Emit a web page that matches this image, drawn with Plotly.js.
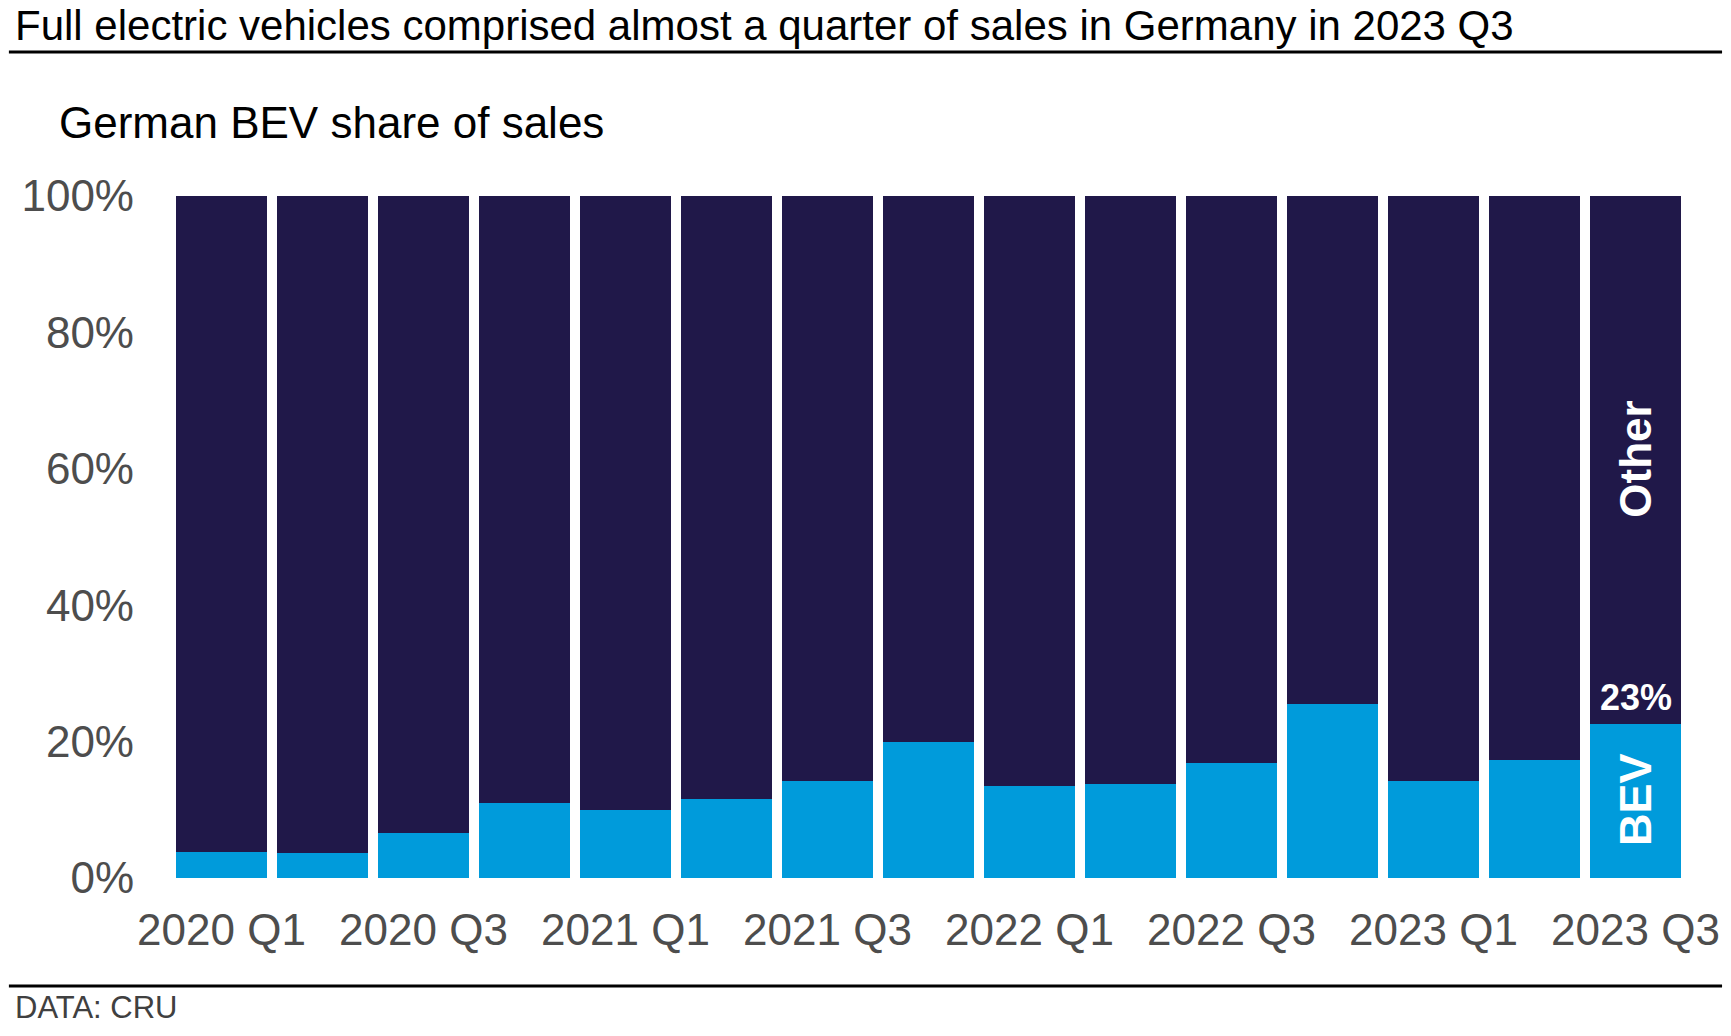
<!DOCTYPE html>
<html>
<head>
<meta charset="utf-8">
<script src="https://cdn.plot.ly/plotly-3.0.1.min.js"></script>
<style>
  html, body { margin: 0; padding: 0; background: #ffffff; }
  #chart { width: 1731px; height: 1036px; }
</style>
</head>
<body>
<div id="chart"></div>
<script>
// ---- Data ----
const quarters = [
  "2020 Q1", "2020 Q2", "2020 Q3", "2020 Q4",
  "2021 Q1", "2021 Q2", "2021 Q3", "2021 Q4",
  "2022 Q1", "2022 Q2", "2022 Q3", "2022 Q4",
  "2023 Q1", "2023 Q2", "2023 Q3"
];
const bevShare = [3.8, 3.7, 6.6, 11.0, 10.0, 11.6, 14.2, 19.9, 13.5, 13.8, 16.9, 25.5, 14.2, 17.3, 22.6];
const otherShare = [96.2, 96.3, 93.4, 89.0, 90.0, 88.4, 85.8, 80.1, 86.5, 86.2, 83.1, 74.5, 85.8, 82.7, 77.4];
const tickLabels = ["2020 Q1", "2020 Q3", "2021 Q1", "2021 Q3", "2022 Q1", "2022 Q3", "2023 Q1", "2023 Q3"];
const yTicks = [0, 20, 40, 60, 80, 100];
const yTickLabels = ["0%", "20%", "40%", "60%", "80%", "100%"];

const titleText = "Full electric vehicles comprised almost a quarter of sales in Germany in 2023 Q3";
const subtitleText = "German BEV share of sales";
const sourceText = "DATA: CRU";

// ---- Styles ----
const BLUE = "#009bdb";
const NAVY = "#201849";
const GREY = "#4d4d4d";
const FONT = "Liberation Sans, Arial, sans-serif";

const traces = [
  {
    type: "bar", name: "BEV", x: quarters, y: bevShare,
    marker: { color: BLUE, line: { width: 0 } }, hoverinfo: "skip"
  },
  {
    type: "bar", name: "Other", x: quarters, y: otherShare,
    marker: { color: NAVY, line: { width: 0 } }, hoverinfo: "skip"
  }
];

const lastQ = quarters[quarters.length - 1];
const lastBev = bevShare[bevShare.length - 1];

const layout = {
  width: 1731, height: 1036,
  margin: { l: 171, r: 45, t: 196, b: 158, pad: 0 },
  paper_bgcolor: "#ffffff", plot_bgcolor: "#ffffff",
  barmode: "stack",
  bargap: 0.099,
  showlegend: false,
  font: { family: FONT, color: GREY },
  xaxis: {
    type: "category",
    categoryorder: "array", categoryarray: quarters,
    tickvals: tickLabels, ticktext: tickLabels,
    showgrid: false, zeroline: false, showline: false,
    ticks: "", ticklabelstandoff: 22,
    tickfont: { family: FONT, size: 44, color: GREY },
    fixedrange: true
  },
  yaxis: {
    range: [0, 100],
    tickvals: yTicks, ticktext: yTickLabels,
    showgrid: false, zeroline: false, showline: false,
    ticks: "", ticklabelstandoff: 36,
    tickfont: { family: FONT, size: 44, color: GREY },
    fixedrange: true
  },
  shapes: [
    { type: "line", xref: "paper", yref: "paper", x0: -0.107, x1: 1.0238, y0: 1.2111, y1: 1.2111,
      line: { color: "#000000", width: 3 } },
    { type: "line", xref: "paper", yref: "paper", x0: -0.107, x1: 1.0238, y0: -0.1584, y1: -0.1584,
      line: { color: "#000000", width: 3 } }
  ],
  annotations: [
    { text: titleText, xref: "paper", yref: "paper", x: -0.104, y: 1.25, xanchor: "left", yanchor: "middle",
      showarrow: false, font: { family: FONT, size: 42, color: "#000000" } },
    { text: subtitleText, xref: "paper", yref: "paper", x: -0.0752, y: 1.1078, xanchor: "left", yanchor: "middle",
      showarrow: false, font: { family: FONT, size: 44, color: "#000000" } },
    { text: sourceText, xref: "paper", yref: "paper", x: -0.104, y: -0.1906, xanchor: "left", yanchor: "middle",
      showarrow: false, font: { family: FONT, size: 31, color: "#404040" } },
    { text: "<b>Other</b>", xref: "x", yref: "y", x: lastQ, y: 61.4, textangle: -90,
      xanchor: "center", yanchor: "middle", showarrow: false,
      font: { family: FONT, size: 44, color: "#ffffff" } },
    { text: "<b>BEV</b>", xref: "x", yref: "y", x: lastQ, y: 11.5, textangle: -90,
      xanchor: "center", yanchor: "middle", showarrow: false,
      font: { family: FONT, size: 45, color: "#ffffff" } },
    { text: "<b>" + Math.round(lastBev) + "%</b>", xref: "x", yref: "y", x: lastQ, y: 26.5,
      xanchor: "center", yanchor: "middle", showarrow: false,
      font: { family: FONT, size: 36, color: "#ffffff" } }
  ]
};

Plotly.newPlot("chart", traces, layout, { staticPlot: true, displayModeBar: false });
</script>
</body>
</html>
